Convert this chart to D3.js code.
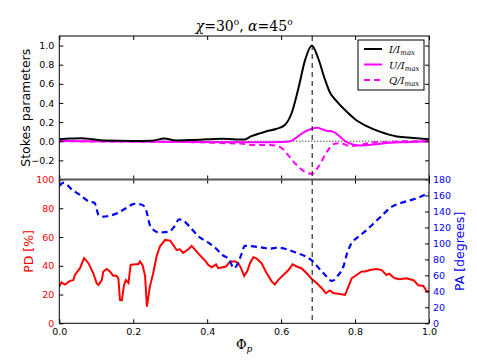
<!DOCTYPE html>
<html>
<head>
<meta charset="utf-8">
<script src="https://cdn.jsdelivr.net/npm/d3@7"></script>
<style>
  body { margin: 0; background: #fff; }
  svg text { font-family: "DejaVu Sans", sans-serif; }
  .math { font-family: "DejaVu Serif", "Liberation Serif", serif; font-style: italic; }
</style>
</head>
<body>
<svg id="chart" width="477" height="360"></svg>
<script>
// phase (Phi_p), Stokes parameters normalised to I_max
var stokesI = [
  [0, 0.02], [0.03, 0.028], [0.06, 0.032], [0.09, 0.02], [0.12, 0.007], [0.2, 0.003],
  [0.25, 0.006], [0.284, 0.028], [0.316, 0.008], [0.36, 0.013], [0.4, 0.02], [0.44, 0.025],
  [0.5, 0.018], [0.518, 0.05], [0.54, 0.08], [0.557, 0.1], [0.588, 0.13], [0.61, 0.17],
  [0.629, 0.3], [0.646, 0.54], [0.665, 0.85], [0.683, 1.0], [0.7, 0.87], [0.719, 0.64],
  [0.732, 0.51], [0.75, 0.42], [0.777, 0.31], [0.8, 0.23], [0.83, 0.16], [0.867, 0.1],
  [0.913, 0.05], [0.957, 0.035], [1.0, 0.02]
]
var stokesU = [
  [0, 0.003], [0.2, -0.002], [0.4, -0.008], [0.55, -0.01], [0.6, -0.008], [0.625, 0.0],
  [0.64, 0.035], [0.66, 0.09], [0.683, 0.13], [0.697, 0.14], [0.723, 0.11], [0.74, 0.1],
  [0.759, 0.05], [0.777, -0.01], [0.814, -0.045], [0.85, -0.035], [0.895, -0.015],
  [0.94, -0.01], [1.0, 0.0]
]
var stokesQ = [
  [0, 0.0], [0.1, -0.003], [0.3, -0.005], [0.36, -0.01], [0.45, -0.02], [0.49, -0.025],
  [0.53, -0.04], [0.57, -0.04], [0.597, -0.06], [0.62, -0.15], [0.64, -0.24], [0.664, -0.32],
  [0.683, -0.34], [0.7, -0.27], [0.724, -0.11], [0.742, -0.03], [0.76, -0.02], [0.787, -0.05],
  [0.814, -0.04], [0.85, -0.012], [0.89, -0.008], [0.93, 0.0], [1.0, 0.0]
]
// polarisation degree [%] and angle [deg]
var pd = [
  [0, 25.5], [0.006, 28.5], [0.015, 27], [0.029, 29.5], [0.038, 30], [0.042, 33.6], [0.056, 38.3],
  [0.067, 45.3], [0.079, 41.8], [0.092, 34.8], [0.101, 27.9], [0.106, 26.7], [0.115, 30],
  [0.119, 36], [0.128, 37.8], [0.137, 36], [0.146, 33], [0.155, 33], [0.16, 31], [0.164, 16.2],
  [0.169, 16], [0.175, 26.5], [0.18, 30], [0.187, 28], [0.193, 40.6], [0.205, 41], [0.214, 41],
  [0.218, 43], [0.225, 40.6], [0.232, 33], [0.237, 11.6], [0.245, 25.5], [0.254, 34.8],
  [0.263, 46.4], [0.272, 53.4], [0.286, 58], [0.3, 57.5], [0.308, 54.5], [0.317, 51],
  [0.326, 51.5], [0.335, 49], [0.349, 51.5], [0.358, 53.8], [0.371, 50], [0.385, 46],
  [0.394, 43.7], [0.403, 40.6], [0.412, 39], [0.424, 41], [0.43, 38.3], [0.439, 38.8],
  [0.451, 39.5], [0.462, 43], [0.475, 43], [0.484, 42], [0.492, 38], [0.5, 33], [0.508, 36],
  [0.516, 42], [0.525, 46], [0.534, 45], [0.547, 41.8], [0.561, 34.8], [0.575, 29], [0.583, 27],
  [0.592, 30], [0.606, 33.6], [0.62, 37], [0.631, 41], [0.642, 39.5], [0.655, 38.3],
  [0.669, 34.8], [0.683, 30.8], [0.696, 28], [0.71, 24.4], [0.721, 20.9], [0.732, 22.8],
  [0.741, 21], [0.759, 20.4], [0.773, 19.7], [0.782, 25.5], [0.791, 31.3], [0.804, 33.6],
  [0.818, 36], [0.827, 36], [0.84, 37], [0.858, 37.8], [0.872, 37], [0.885, 33.6], [0.892, 34.5],
  [0.899, 33], [0.908, 31.3], [0.921, 30.6], [0.939, 31.3], [0.958, 30], [0.971, 26.5],
  [0.985, 26], [0.994, 22], [1.0, 22.4]
]
var pa = [
  [0, 172], [0.012, 176], [0.035, 167], [0.055, 161], [0.08, 152.5], [0.095, 151], [0.107, 135],
  [0.12, 133.5], [0.134, 134.5], [0.158, 138], [0.18, 144], [0.203, 149.5], [0.221, 148.7],
  [0.232, 145], [0.247, 121], [0.27, 113.6], [0.297, 114.7], [0.311, 121], [0.324, 130],
  [0.335, 128.6], [0.356, 119], [0.379, 107.8], [0.4, 102], [0.423, 94], [0.441, 85.6],
  [0.46, 79.3], [0.472, 69], [0.482, 74], [0.493, 87], [0.502, 97], [0.529, 96], [0.55, 94.7],
  [0.57, 93.5], [0.592, 94.7], [0.62, 92], [0.642, 88], [0.665, 84], [0.687, 77], [0.7, 70],
  [0.719, 60.5], [0.737, 53], [0.755, 60.5], [0.769, 71.8], [0.778, 87], [0.79, 100],
  [0.805, 107], [0.827, 115], [0.85, 125], [0.872, 134.5], [0.9, 146], [0.922, 150.3],
  [0.953, 154.5], [0.975, 158], [1.0, 163.5]
]
var peakPhase = 0.684
var legendItems = [
  { num: 'I', color: '#000000', dash: null },
  { num: 'U', color: '#ff00ff', dash: null },
  { num: 'Q', color: '#ff00ff', dash: '6,4' }
]

var svg = d3.select('#chart')
var pLeft = 59.3, pRight = 429, pTop = 36, pMid = 179.5, pBottom = 323.3

var x = d3.scaleLinear().domain([0, 1]).range([pLeft, pRight])
var yS = d3.scaleLinear().domain([-0.4, 1.1]).range([pMid, pTop])
var yPD = d3.scaleLinear().domain([0, 100]).range([pBottom, pMid])
var yPA = d3.scaleLinear().domain([0, 180]).range([pBottom, pMid])

var defs = svg.append('defs')
defs.append('clipPath').attr('id', 'clipTop').append('rect')
  .attr('x', pLeft).attr('y', pTop).attr('width', pRight - pLeft).attr('height', pMid - pTop)
defs.append('clipPath').attr('id', 'clipBot').append('rect')
  .attr('x', pLeft).attr('y', pMid).attr('width', pRight - pLeft).attr('height', pBottom - pMid)

var xTicks = d3.range(0, 1.01, 0.2)

// --- top panel ---
var gTop = svg.append('g').attr('clip-path', 'url(#clipTop)')
gTop.append('line')
  .attr('x1', pLeft).attr('x2', pRight).attr('y1', yS(0)).attr('y2', yS(0))
  .attr('stroke', '#000').attr('stroke-width', 1).attr('stroke-dasharray', '1,2')

function lineS(data) {
  return d3.line().x(function(d) { return x(d[0]) }).y(function(d) { return yS(d[1]) })
    .curve(d3.curveMonotoneX)(data)
}
gTop.append('path').attr('d', lineS(stokesQ)).attr('fill', 'none')
  .attr('stroke', '#ff00ff').attr('stroke-width', 2).attr('stroke-dasharray', '6,4')
gTop.append('path').attr('d', lineS(stokesU)).attr('fill', 'none')
  .attr('stroke', '#ff00ff').attr('stroke-width', 2)
gTop.append('path').attr('d', lineS(stokesI)).attr('fill', 'none')
  .attr('stroke', '#000').attr('stroke-width', 2)

// --- bottom panel ---
var gBot = svg.append('g').attr('clip-path', 'url(#clipBot)')
gBot.append('path')
  .attr('d', d3.line().x(function(d) { return x(d[0]) }).y(function(d) { return yPD(d[1]) })(pd))
  .attr('fill', 'none').attr('stroke', '#ff0000').attr('stroke-width', 2)
gBot.append('path')
  .attr('d', d3.line().x(function(d) { return x(d[0]) }).y(function(d) { return yPA(d[1]) })
    .curve(d3.curveMonotoneX)(pa))
  .attr('fill', 'none').attr('stroke', '#0000ff').attr('stroke-width', 2.2)
  .attr('stroke-dasharray', '6,4')

// vertical marker through both panels
svg.append('line')
  .attr('x1', x(peakPhase)).attr('x2', x(peakPhase)).attr('y1', pTop).attr('y2', pBottom)
  .attr('stroke', '#000').attr('stroke-width', 1).attr('stroke-dasharray', '5,4')

// --- axes (ticks point inward) ---
function axis(gen, tr, color, showLabels) {
  var g = svg.append('g').attr('transform', tr).call(gen)
  g.select('.domain').remove()
  g.selectAll('line').attr('stroke', '#000')
  g.selectAll('text').attr('fill', color).style('font-size', '9.5px')
  if (!showLabels) g.selectAll('text').remove()
  return g
}
var fmt1 = d3.format('.1f')

axis(d3.axisTop(x).tickValues(xTicks).tickSize(-4), 'translate(0,' + pTop + ')', '#000', false)
axis(d3.axisBottom(x).tickValues(xTicks).tickSize(-4), 'translate(0,' + pMid + ')', '#000', false)
axis(d3.axisTop(x).tickValues(xTicks).tickSize(-4), 'translate(0,' + pMid + ')', '#000', false)
axis(d3.axisBottom(x).tickValues(xTicks).tickSize(-4).tickPadding(5).tickFormat(fmt1),
  'translate(0,' + pBottom + ')', '#000', true)

var sTicks = [-0.2, 0, 0.2, 0.4, 0.6, 0.8, 1.0]
axis(d3.axisLeft(yS).tickValues(sTicks).tickSize(-4).tickPadding(5).tickFormat(fmt1),
  'translate(' + pLeft + ',0)', '#000', true)
axis(d3.axisRight(yS).tickValues(sTicks).tickSize(-4), 'translate(' + pRight + ',0)', '#000', false)

axis(d3.axisLeft(yPD).tickValues(d3.range(0, 101, 20)).tickSize(-4).tickPadding(5),
  'translate(' + pLeft + ',0)', '#ff0000', true)
axis(d3.axisRight(yPA).tickValues(d3.range(0, 181, 20)).tickSize(-4).tickPadding(4),
  'translate(' + pRight + ',0)', '#0000ff', true)

// frames
svg.append('rect').attr('x', pLeft).attr('y', pTop).attr('width', pRight - pLeft).attr('height', pMid - pTop)
  .attr('fill', 'none').attr('stroke', '#000').attr('stroke-width', 1)
svg.append('rect').attr('x', pLeft).attr('y', pMid).attr('width', pRight - pLeft).attr('height', pBottom - pMid)
  .attr('fill', 'none').attr('stroke', '#000').attr('stroke-width', 1)
svg.append('line').attr('x1', pLeft).attr('x2', pRight).attr('y1', pMid).attr('y2', pMid)
  .attr('stroke', '#555').attr('stroke-width', 2)

// --- labels ---
var title = svg.append('text').attr('class', 'math').attr('x', (pLeft + pRight) / 2).attr('y', 31)
  .attr('text-anchor', 'middle').style('font-size', '14px')
title.append('tspan').text('χ')
title.append('tspan').style('font-style', 'normal').text('=30')
title.append('tspan').style('font-style', 'normal').style('font-size', '9px').attr('dy', -6).text('o')
title.append('tspan').style('font-style', 'normal').attr('dy', 6).text(', ')
title.append('tspan').text('α')
title.append('tspan').style('font-style', 'normal').text('=45')
title.append('tspan').style('font-style', 'normal').style('font-size', '9px').attr('dy', -6).text('o')

svg.append('text').attr('transform', 'translate(30,' + (pTop + pMid) / 2 + ') rotate(-90)')
  .attr('text-anchor', 'middle').style('font-size', '12.5px').text('Stokes parameters')
svg.append('text').attr('transform', 'translate(33,' + (pMid + pBottom) / 2 + ') rotate(-90)')
  .attr('text-anchor', 'middle').attr('fill', '#ff0000').style('font-size', '12.5px').text('PD [%]')
svg.append('text').attr('transform', 'translate(464,' + (pMid + pBottom) / 2 + ') rotate(-90)')
  .attr('text-anchor', 'middle').attr('fill', '#0000ff').style('font-size', '12.5px').text('PA [degrees]')

var xl = svg.append('text').attr('class', 'math').attr('x', (pLeft + pRight) / 2).attr('y', 349)
  .attr('text-anchor', 'middle').style('font-size', '13px')
xl.append('tspan').style('font-style', 'normal').text('Φ')
xl.append('tspan').style('font-size', '9px').attr('dy', 3).text('p')

// --- legend ---
var lg = svg.append('g')
lg.append('rect').attr('x', 358).attr('y', 40).attr('width', 66).attr('height', 50)
  .attr('fill', '#fff').attr('stroke', '#000').attr('stroke-width', 1)
legendItems.forEach(function(item, i) {
  var ly = 49 + i * 15.5
  lg.append('line').attr('x1', 364).attr('x2', 382).attr('y1', ly).attr('y2', ly)
    .attr('stroke', item.color).attr('stroke-width', 2)
    .attr('stroke-dasharray', item.dash)
  var t = lg.append('text').attr('class', 'math').attr('x', 389).attr('y', ly + 4)
    .style('font-size', '10px')
  t.append('tspan').text(item.num + '/I')
  t.append('tspan').style('font-size', '7px').attr('dy', 2).text('max')
})
</script>
</body>
</html>
